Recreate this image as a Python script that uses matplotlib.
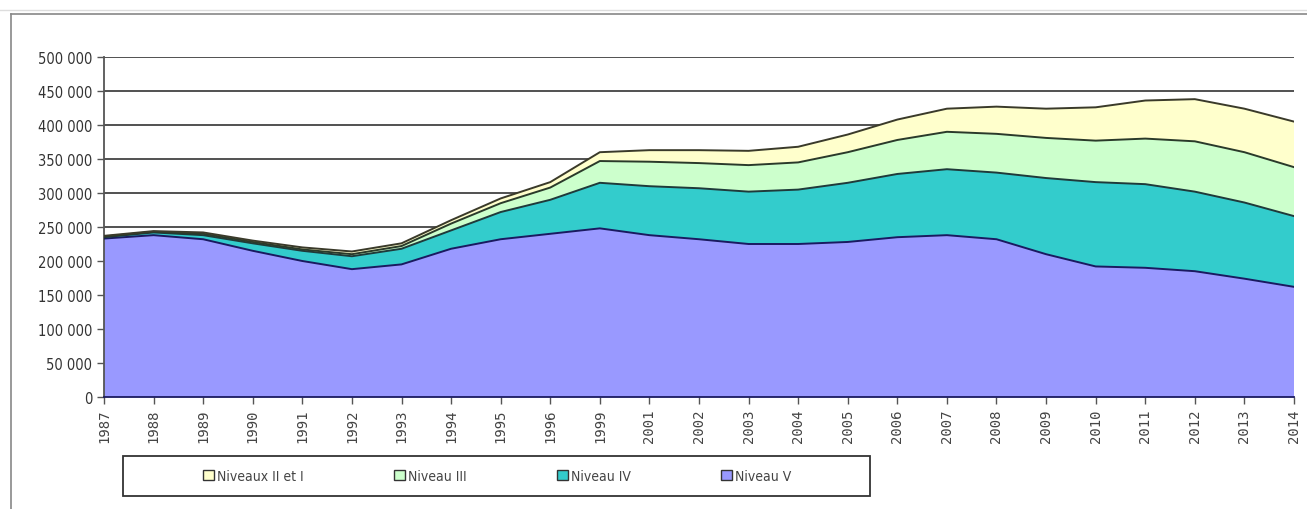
import numpy as np
import matplotlib.pyplot as plt
from matplotlib.patches import Rectangle
from matplotlib.ticker import FuncFormatter

# Effectifs par niveau de formation (en milliers)
years = ['1987', '1988', '1989', '1990', '1991', '1992', '1993', '1994', '1995',
         '1996', '1999', '2001', '2002', '2003', '2004', '2005', '2006', '2007',
         '2008', '2009', '2010', '2011', '2012', '2013', '2014']

niveau_v = [233, 238, 232, 215, 200, 188, 195, 218, 232, 240, 248, 238, 232,
            225, 225, 228, 235, 238, 232, 210, 192, 190, 185, 174, 162]
niveau_iv = [2, 4, 6, 11, 15, 19, 23, 27, 40, 50, 67, 72, 75,
             77, 80, 87, 93, 97, 98, 112, 124, 123, 117, 112, 104]
niveau_iii = [1, 1, 2, 2, 2, 3, 4, 10, 13, 18, 32, 36, 37,
              39, 40, 45, 50, 55, 57, 59, 61, 67, 74, 74, 72]
niveaux_ii_i = [1, 1, 2, 2, 3, 4, 4, 5, 7, 8, 13, 17, 19,
                21, 23, 26, 30, 34, 40, 43, 49, 56, 62, 64, 67]

labels = ['Niveau V', 'Niveau IV', 'Niveau III', 'Niveaux II et I']
colors = ['#9999FF', '#33CCCC', '#CCFFCC', '#FFFFCC']
edges = ['#1a1a60', '#1f3a3a', '#2a3a2a', '#3a3a2a']

narrow = {'family': 'DejaVu Sans', 'stretch': 'condensed'}

series = np.array([niveau_v, niveau_iv, niveau_iii, niveaux_ii_i]) * 1000
x = np.arange(len(years))

fig = plt.figure(figsize=(13.07, 5.10), dpi=100)
ax = fig.add_axes([104 / 1307, 1 - 398 / 510, (1294 - 104) / 1307, 340 / 510])

ax.stackplot(x, series, colors=colors, zorder=2)
cum = np.cumsum(series, axis=0)
for c, ec in zip(cum, edges):
    ax.plot(x, c, color=ec, lw=1.4, zorder=3)

ax.set_xlim(0, len(years) - 1)
ax.set_ylim(0, 500000)
ax.set_yticks(np.arange(0, 500001, 50000))
ax.yaxis.set_major_formatter(FuncFormatter(lambda v, p: f'{int(v):,}'.replace(',', ' ')))
ax.grid(axis='y', color='#333333', lw=1.2, zorder=1)
ax.set_xticks(x)
ax.set_xticklabels(years, rotation=90, family='DejaVu Sans Mono', fontsize=10,
                   color='#444444')
for lab in ax.get_yticklabels():
    lab.set_family(narrow['family'])
    lab.set_stretch(narrow['stretch'])
    lab.set_fontsize(10.5)
    lab.set_color('#333333')
ax.tick_params(axis='both', length=5, color='#555555', width=1)

for side in ['top', 'right']:
    ax.spines[side].set_visible(False)
ax.spines['left'].set_color('#555555')
ax.spines['left'].set_linewidth(1.3)
ax.spines['bottom'].set_color('#1a1a60')
ax.spines['bottom'].set_linewidth(1.3)

# Légende en une ligne sous le graphique, dans son propre cadre
fig.add_artist(Rectangle((123 / 1307, 1 - 497 / 510), 747 / 1307, 40 / 510,
                         transform=fig.transFigure, facecolor='white',
                         edgecolor='#333333', lw=1.3))
handles = [Rectangle((0, 0), 1, 1, facecolor=colors[i], edgecolor='#333333', lw=1)
           for i in [3, 2, 1, 0]]
leg = fig.legend(handles, [labels[i] for i in [3, 2, 1, 0]], ncol=4,
                 loc='center', bbox_to_anchor=(497 / 1307, 1 - 477 / 510),
                 frameon=False, handlelength=0.8, handleheight=0.8,
                 handletextpad=0.2, columnspacing=6.5,
                 prop={'family': 'DejaVu Sans', 'stretch': 'condensed', 'size': 10})
for t in leg.get_texts():
    t.set_color('#444444')

# Cadre extérieur du graphique
fig.add_artist(plt.Line2D([11 / 1307, 11 / 1307], [0, 1 - 15 / 510],
                          transform=fig.transFigure, color='#888888', lw=1.2))
fig.add_artist(plt.Line2D([11 / 1307, 1], [1 - 15 / 510, 1 - 15 / 510],
                          transform=fig.transFigure, color='#888888', lw=1.2))
fig.add_artist(plt.Line2D([0, 1], [1 - 11 / 510, 1 - 11 / 510],
                          transform=fig.transFigure, color='#dddddd', lw=1))

fig.savefig('out.png', dpi=100)
